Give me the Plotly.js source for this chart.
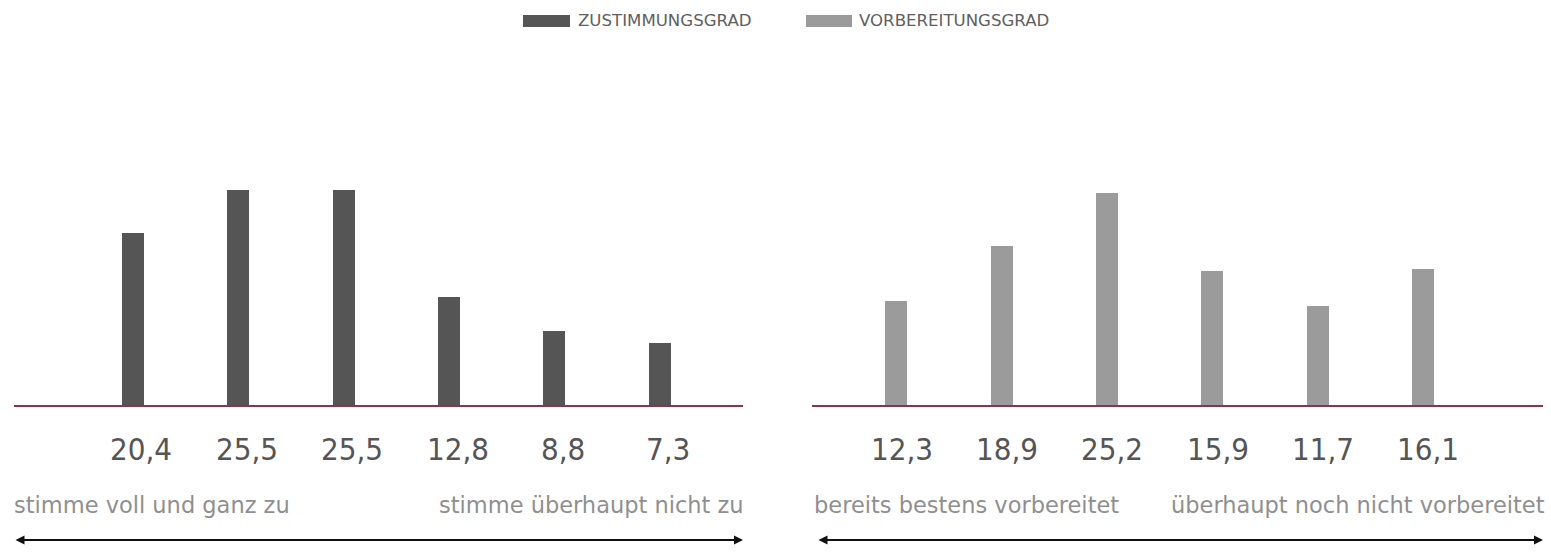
<!DOCTYPE html>
<html>
<head>
<meta charset="utf-8">
<script src="https://cdn.plot.ly/plotly-3.0.1.min.js"></script>
<style>html,body{margin:0;padding:0;background:#fff;}#chart{width:1551px;height:558px;}</style>
</head>
<body>
<div id="chart"></div>
<script>
// ---- data ----
const seriesNames = ["ZUSTIMMUNGSGRAD", "VORBEREITUNGSGRAD"];
const zustimmung = [20.4, 25.5, 25.5, 12.8, 8.8, 7.3];
const vorbereitung = [12.3, 18.9, 25.2, 15.9, 11.7, 16.1];
const positions = [0, 1, 2, 3, 4, 5];
const leftScaleLabels = ["stimme voll und ganz zu", "stimme überhaupt nicht zu"];
const rightScaleLabels = ["bereits bestens vorbereitet", "überhaupt noch nicht vorbereitet"];
const colors = ["#555555", "#9b9b9b"];

const W = 1551, H = 558;
const fmt = v => v.toFixed(1).replace('.', ',');
const px = x => x / W;
const py = y => (H - y) / H;

const traces = [
  {type: 'bar', x: positions, y: zustimmung, xaxis: 'x', yaxis: 'y', width: 0.21,
   marker: {color: colors[0]}, name: seriesNames[0], hoverinfo: 'y'},
  {type: 'bar', x: positions, y: vorbereitung, xaxis: 'x2', yaxis: 'y', width: 0.21,
   marker: {color: colors[1]}, name: seriesNames[1], hoverinfo: 'y'}
];

const axisCommon = {
  showgrid: false, zeroline: false, showline: true, linecolor: '#86344f', linewidth: 1.5,
  ticks: '', showticklabels: false, fixedrange: true
};

const valueFont = {family: 'DejaVu Sans Condensed, sans-serif', size: 31, color: '#555555'};
const smallFont = {family: 'DejaVu Sans, sans-serif', size: 22.5, color: '#8f8f8f'};
const legendFont = {family: 'DejaVu Sans, sans-serif', size: 16.6, color: '#606060'};

const annotations = [];
// value labels below bars
zustimmung.forEach((v, i) => annotations.push({xref: 'x', yref: 'paper', x: positions[i] + 0.08, y: py(449),
  xanchor: 'center', yanchor: 'middle', showarrow: false, text: fmt(v), font: valueFont}));
vorbereitung.forEach((v, i) => annotations.push({xref: 'x2', yref: 'paper', x: positions[i] + 0.05, y: py(449),
  xanchor: 'center', yanchor: 'middle', showarrow: false, text: fmt(v), font: valueFont}));
// legend texts and scale labels
annotations.push(
  {xref: 'paper', yref: 'paper', x: px(576), y: py(21), xanchor: 'left', yanchor: 'middle', showarrow: false,
   text: seriesNames[0], font: legendFont},
  {xref: 'paper', yref: 'paper', x: px(857), y: py(21), xanchor: 'left', yanchor: 'middle', showarrow: false,
   text: seriesNames[1], font: legendFont},
  {xref: 'paper', yref: 'paper', x: px(12), y: py(505), xanchor: 'left', yanchor: 'middle', showarrow: false,
   text: leftScaleLabels[0], font: smallFont},
  {xref: 'paper', yref: 'paper', x: px(746), y: py(505), xanchor: 'right', yanchor: 'middle', showarrow: false,
   text: leftScaleLabels[1], font: smallFont},
  {xref: 'paper', yref: 'paper', x: px(812), y: py(505), xanchor: 'left', yanchor: 'middle', showarrow: false,
   text: rightScaleLabels[0], font: smallFont},
  {xref: 'paper', yref: 'paper', x: px(1547), y: py(505), xanchor: 'right', yanchor: 'middle', showarrow: false,
   text: rightScaleLabels[1], font: smallFont},
  {xref: 'paper', yref: 'paper', x: px(743), y: py(540), axref: 'pixel', ayref: 'pixel', ax: -729, ay: 0,
   text: '', showarrow: true, arrowside: 'end+start', arrowhead: 2, arrowsize: 0.9, arrowwidth: 2, arrowcolor: '#111111'},
  {xref: 'paper', yref: 'paper', x: px(1543), y: py(540), axref: 'pixel', ayref: 'pixel', ax: -726, ay: 0,
   text: '', showarrow: true, arrowside: 'end+start', arrowhead: 2, arrowsize: 0.9, arrowwidth: 2, arrowcolor: '#111111'}
);

const layout = {
  width: W, height: H, margin: {l: 0, r: 0, t: 0, b: 0},
  paper_bgcolor: '#ffffff', plot_bgcolor: '#ffffff', showlegend: false, bargap: 0,
  xaxis: Object.assign({}, axisCommon, {domain: [px(14), px(743)], range: [-1.13, 5.79], anchor: 'y'}),
  xaxis2: Object.assign({}, axisCommon, {domain: [px(812), px(1543)], range: [-0.80, 6.14], anchor: 'y'}),
  yaxis: {domain: [py(405), py(100)], range: [0, 36.18], visible: false, fixedrange: true},
  shapes: [
    {type: 'rect', xref: 'paper', yref: 'paper', x0: px(523), x1: px(570), y0: py(27), y1: py(15), fillcolor: colors[0], line: {width: 0}},
    {type: 'rect', xref: 'paper', yref: 'paper', x0: px(806), x1: px(852), y0: py(27), y1: py(15), fillcolor: colors[1], line: {width: 0}}
  ],
  annotations: annotations
};

Plotly.newPlot('chart', traces, layout, {displayModeBar: false, staticPlot: true});
</script>
</body>
</html>
